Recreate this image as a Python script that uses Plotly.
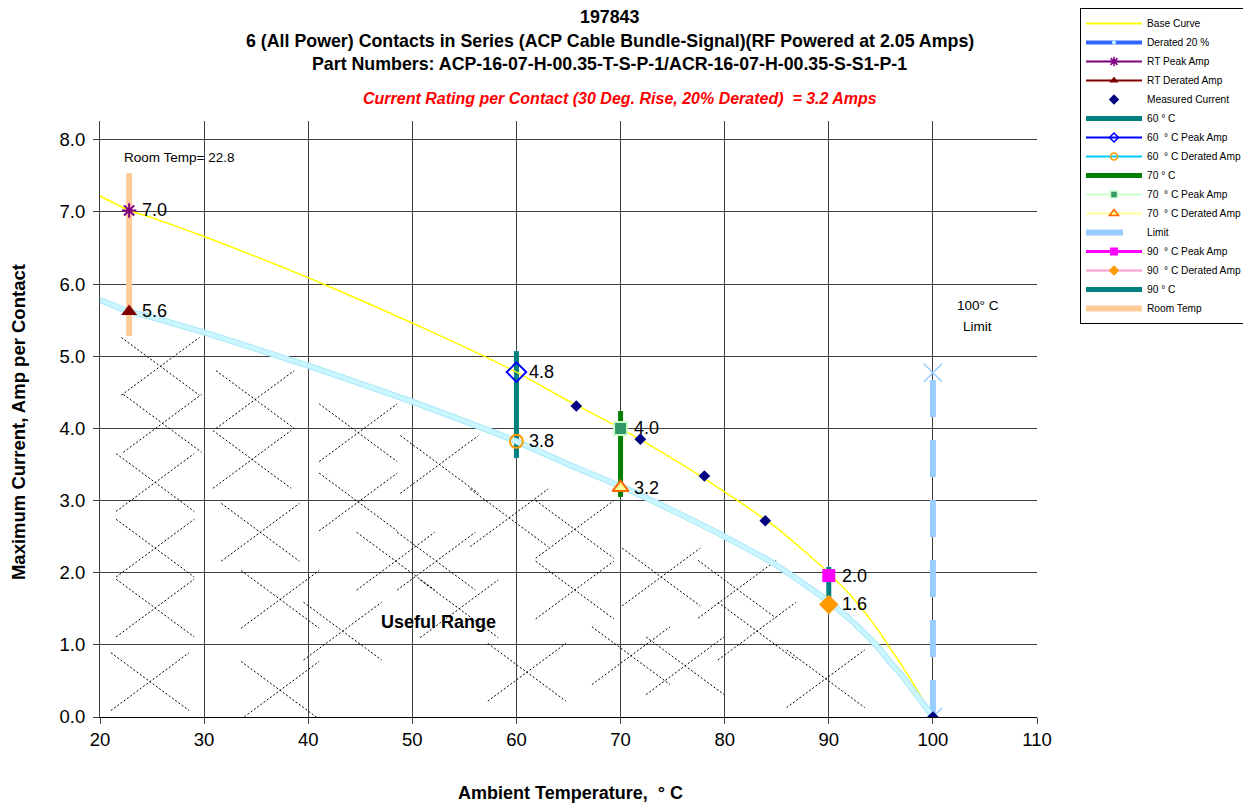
import plotly.graph_objects as go

# ---------------- data ----------------
temps = [20, 22.8, 25, 30, 35, 40, 45, 50, 55, 60, 65, 70, 75, 80, 85, 90,
         91, 92, 93, 94, 95, 96, 97, 98, 99, 100]
base_curve = [7.22, 7.02, 6.92, 6.66, 6.38, 6.09, 5.78, 5.46, 5.13, 4.78, 4.38, 4.00,
              3.58, 3.12, 2.62, 2.00, 1.85, 1.70, 1.53, 1.35, 1.15, 0.93, 0.72, 0.49, 0.25, 0.0]
derated_curve = [5.78, 5.62, 5.54, 5.33, 5.10, 4.87, 4.62, 4.37, 4.10, 3.82, 3.50, 3.20,
                 2.86, 2.50, 2.10, 1.60, 1.48, 1.36, 1.22, 1.08, 0.92, 0.74, 0.58, 0.39, 0.20, 0.0]

measured_t = [65.75, 71.9, 78.05, 83.9, 100]
measured_i = [4.31, 3.85, 3.34, 2.72, 0.0]

room_temp = 22.8
rt_peak = 7.02
rt_derated = 5.62
room_bar = [5.28, 7.54]

t60, peak60, der60, bar60 = 60, 4.78, 3.82, [3.59, 5.07]
t70, peak70, der70, bar70 = 70, 4.00, 3.18, [3.05, 4.24]
t90, peak90, der90, bar90 = 90, 1.96, 1.56, [1.55, 2.08]

limit_t = 100
limit_i = [0.0, 4.77]

point_labels = [(room_temp, rt_peak, "7.0"), (room_temp, rt_derated, "5.6"),
                (t60, peak60, "4.8"), (t60, der60, "3.8"),
                (t70, peak70, "4.0"), (t70, der70, "3.2"),
                (t90, peak90, "2.0"), (t90, der90, "1.6")]

# centres of the dotted "X" hatch marks of the useful range
hatch_t = [25.8, 26.0, 25.3, 25.3, 25.3, 24.8,
           34.9, 34.6, 35.4, 37.3, 37.3,
           44.8, 44.8, 48.4, 43.3,
           52.6, 52.3, 54.5,
           59.3, 65.6, 65.6, 61.0,
           73.9, 81.2, 83.1, 76.2, 71.0, 89.7]
hatch_i = [4.86, 4.07, 3.25, 2.34, 1.51, 0.49,
           4.40, 3.57, 2.56, 1.63, 0.37,
           3.94, 2.98, 2.16, 1.19,
           3.50, 2.16, 1.50,
           2.76, 2.60, 1.76, 0.62,
           1.94, 1.77, 1.19, 0.71, 0.85, 0.53]
HATCH_DX, HATCH_DY = 3.75, 0.40

FONT = "Liberation Sans, Arial, sans-serif"

fig = go.Figure()

# hatch
hx, hy = [], []
for t, i in zip(hatch_t, hatch_i):
    hx += [t - HATCH_DX, t + HATCH_DX, None, t - HATCH_DX, t + HATCH_DX, None]
    hy += [i + HATCH_DY, i - HATCH_DY, None, i - HATCH_DY, i + HATCH_DY, None]
fig.add_trace(go.Scatter(x=hx, y=hy, mode="lines", showlegend=False, hoverinfo="skip",
                         line=dict(color="black", width=1, dash="2px,2px")))


def add(x, y, mode, line=None, marker=None):
    fig.add_trace(go.Scatter(x=x, y=y, mode=mode, showlegend=False, line=line, marker=marker))


# vertical bars
add([room_temp, room_temp], room_bar, "lines", dict(color="#ffcc99", width=6))
add([t60, t60], bar60, "lines", dict(color="#008080", width=5))
add([t70, t70], bar70, "lines", dict(color="#008000", width=5))
add([t90, t90], bar90, "lines", dict(color="#008080", width=5))

# limit
add([limit_t, limit_t], limit_i, "lines+markers",
    dict(color="#99ccff", width=6, dash="37px,23px"),
    dict(symbol="x-thin-open", size=18, color="#99ccff", line=dict(color="#99ccff", width=1.5)))

# curves
add(temps, base_curve, "lines", dict(color="#ffff00", width=1.5, shape="spline", smoothing=0.5))
add(temps, derated_curve, "lines", dict(color="#a8e8f8", width=6, shape="spline", smoothing=0.5))
add(temps, derated_curve, "lines", dict(color="#ccf6ff", width=4, shape="spline", smoothing=0.5))

# markers
add(measured_t, measured_i, "markers", None, dict(symbol="diamond", size=9, color="#000080"))
add([room_temp], [rt_peak], "markers", None,
    dict(symbol="asterisk-open", size=12, color="#800080", line=dict(color="#800080", width=2)))
add([room_temp], [rt_derated], "markers", None, dict(symbol="triangle-up", size=14, color="#800000"))
add([t60], [peak60], "markers", None,
    dict(symbol="diamond-open", size=15, color="#0000ff", line=dict(color="#0000ff", width=2)))
add([t60], [der60], "markers", None,
    dict(symbol="circle-open", size=13, color="#ff9900", line=dict(color="#ff9900", width=2)))
add([t70], [peak70], "markers", None,
    dict(symbol="square", size=13, color="#339966", line=dict(color="#ccffcc", width=2)))
add([t70], [der70], "markers", None,
    dict(symbol="triangle-up", size=14, color="#ffff99", line=dict(color="#ff6600", width=2)))
add([t90], [peak90], "markers", None, dict(symbol="square", size=13, color="#ff00ff"))
add([t90], [der90], "markers", None, dict(symbol="diamond", size=15, color="#ff9900"))

# legend entries (legend symbols only)
legend_items = [
    ("Base Curve", "lines", dict(color="#ffff00", width=2), None),
    ("Derated 20 %", "lines+markers", dict(color="#3366ff", width=4),
     dict(symbol="circle", size=4, color="#ccffff")),
    ("RT Peak Amp", "lines+markers", dict(color="#800080", width=2),
     dict(symbol="asterisk-open", size=8, color="#800080", line=dict(color="#800080", width=1.5))),
    ("RT Derated Amp", "lines+markers", dict(color="#800000", width=2),
     dict(symbol="triangle-up", size=8, color="#800000")),
    ("Measured Current", "markers", None, dict(symbol="diamond", size=8, color="#000080")),
    ("60 ° C", "lines", dict(color="#008080", width=5), None),
    ("60&nbsp; ° C Peak Amp", "lines+markers", dict(color="#0000ff", width=2),
     dict(symbol="diamond-open", size=7, color="#0000ff", line=dict(color="#0000ff", width=1.5))),
    ("60&nbsp; ° C Derated Amp", "lines+markers", dict(color="#00ccff", width=2),
     dict(symbol="circle-open", size=7, color="#ff9900", line=dict(color="#ff9900", width=1.5))),
    ("70 ° C", "lines", dict(color="#008000", width=5), None),
    ("70&nbsp; ° C Peak Amp", "lines+markers", dict(color="#ccffcc", width=2),
     dict(symbol="square", size=7, color="#339966", line=dict(color="#ccffcc", width=1.5))),
    ("70&nbsp; ° C Derated Amp", "lines+markers", dict(color="#ffff99", width=2),
     dict(symbol="triangle-up", size=8, color="#ffff99", line=dict(color="#ff6600", width=1.5))),
    ("Limit", "lines", dict(color="#99ccff", width=6, dash="37px,23px"), None),
    ("90&nbsp; ° C Peak Amp", "lines+markers", dict(color="#ff00ff", width=3),
     dict(symbol="square", size=8, color="#ff00ff")),
    ("90&nbsp; ° C Derated Amp", "lines+markers", dict(color="#ff99cc", width=2),
     dict(symbol="diamond", size=8, color="#ff9900")),
    ("90 ° C", "lines", dict(color="#008080", width=5), None),
    ("Room Temp", "lines", dict(color="#ffcc99", width=6), None),
]
for name, mode, line, marker in legend_items:
    fig.add_trace(go.Scatter(x=[None], y=[None], mode=mode, name=name, line=line, marker=marker,
                             showlegend=True, hoverinfo="skip"))

# ---------------- layout ----------------
OFF = 8                      # page body margin of the html page
W, H = 1251 - OFF, 805 - OFF
L, T = 100 - OFF, 121 - OFF
R = W - (1037.5 - OFF)
B = H - (717 - OFF)
PW, PH = W - L - R, H - T - B


def px(x):   # reference-picture x pixel -> paper
    return (x - OFF - L) / PW


def py(y):   # reference-picture y pixel -> paper
    return (H - B - (y - OFF)) / PH


ann = []
for x, y, s in point_labels:
    ann.append(dict(x=x, y=y, text=s, showarrow=False, xanchor="left", yanchor="middle",
                    xshift=11, font=dict(size=18, color="black", family=FONT)))

title_lines = [("197843", 17), ("6 (All Power) Contacts in Series (ACP Cable Bundle-Signal)(RF Powered at 2.05 Amps)", 41),
               ("Part Numbers: ACP-16-07-H-00.35-T-S-P-1/ACR-16-07-H-00.35-S-S1-P-1", 64)]
for s, yy in title_lines:
    ann.append(dict(xref="paper", yref="paper", x=px(610), y=py(yy), text="<b>" + s + "</b>",
                    showarrow=False, xanchor="center", yanchor="middle",
                    font=dict(size=17.8, color="black", family=FONT)))
ann.append(dict(xref="paper", yref="paper", x=px(620), y=py(98),
                text="<b><i>Current Rating per Contact (30 Deg. Rise, 20% Derated)&nbsp; = 3.2 Amps</i></b>",
                showarrow=False, xanchor="center", yanchor="middle",
                font=dict(size=16, color="#ff0000", family=FONT)))
ann.append(dict(xref="paper", yref="paper", x=px(18), y=py(422), textangle=-90,
                text="<b>Maximum Current, Amp per Contact</b>", showarrow=False,
                xanchor="center", yanchor="middle", font=dict(size=18.5, color="black", family=FONT)))
ann.append(dict(xref="paper", yref="paper", x=px(571), y=py(793),
                text="<b>Ambient Temperature,&nbsp; ° C</b>", showarrow=False,
                xanchor="center", yanchor="middle", font=dict(size=18, color="black", family=FONT)))
ann.append(dict(x=22.1, y=7.75, text="Room Temp= 22.8", showarrow=False, xanchor="left",
                yanchor="middle", font=dict(size=13.5, color="black", family=FONT)))
ann.append(dict(x=104.3, y=5.71, text="100° C", showarrow=False, xanchor="center",
                yanchor="middle", font=dict(size=13.5, color="black", family=FONT)))
ann.append(dict(x=104.3, y=5.41, text="Limit", showarrow=False, xanchor="center",
                yanchor="middle", font=dict(size=13.5, color="black", family=FONT)))
ann.append(dict(x=52.55, y=1.32, text="<b>Useful Range</b>", showarrow=False, xanchor="center",
                yanchor="middle", font=dict(size=18, color="black", family=FONT)))

fig.update_layout(
    width=W, height=H, autosize=False,
    margin=dict(l=L, r=R, t=T, b=B, pad=0, autoexpand=False),
    paper_bgcolor="white", plot_bgcolor="white",
    font=dict(family=FONT, color="black"),
    showlegend=True,
    legend=dict(xref="container", yref="container",
                x=(1080 - OFF) / W, y=1.0, xanchor="left", yanchor="top",
                bgcolor="white", bordercolor="black", borderwidth=1,
                font=dict(size=10.2, family=FONT, color="black"),
                itemwidth=56, tracegroupgap=0),
    annotations=ann,
    xaxis=dict(range=[20, 110], tick0=20, dtick=10, showgrid=True, gridcolor="#404040",
               gridwidth=1, zeroline=False, showline=True, linecolor="black", linewidth=1,
               ticks="outside", ticklen=6, tickcolor="#404040",
               tickfont=dict(size=18.5, family=FONT, color="black")),
    yaxis=dict(range=[0, 8.26], tickvals=[0, 1, 2, 3, 4, 5, 6, 7, 8], tickformat=".1f",
               showgrid=True, gridcolor="#404040", gridwidth=1, zeroline=False,
               showline=True, linecolor="#404040", linewidth=1,
               ticks="outside", ticklen=6, tickcolor="#404040", ticklabelstandoff=4,
               tickfont=dict(size=18.5, family=FONT, color="black")),
)

fig.write_html("out.html")
